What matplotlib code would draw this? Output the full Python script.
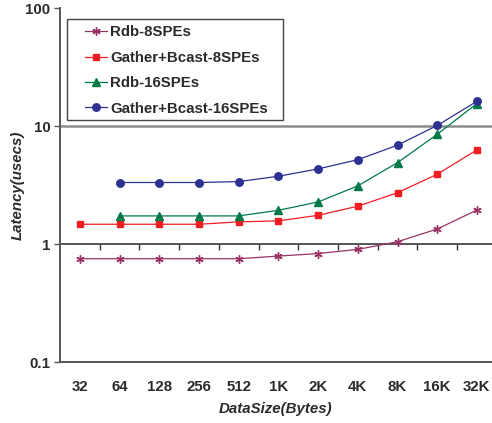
import numpy as np
import matplotlib
matplotlib.use("Agg")
import matplotlib.pyplot as plt
from matplotlib.patches import Rectangle

plt.rcParams['font.family'] = ['Liberation Sans', 'DejaVu Sans']
plt.rcParams['font.weight'] = 'bold'

# Message sizes
categories = ["32", "64", "128", "256", "512", "1K", "2K", "4K", "8K", "16K", "32K"]

# Latency in microseconds (None = not measured)
rdb_8spes = [0.75, 0.75, 0.75, 0.75, 0.75, 0.79, 0.83, 0.90, 1.045, 1.34, 1.94]
gather_bcast_8spes = [1.47, 1.47, 1.47, 1.47, 1.54, 1.57, 1.75, 2.09, 2.72, 3.9, 6.27]
rdb_16spes = [None, 1.73, 1.73, 1.73, 1.73, 1.93, 2.27, 3.11, 4.89, 8.5, 15.5]
gather_bcast_16spes = [None, 3.32, 3.32, 3.32, 3.38, 3.75, 4.33, 5.18, 6.88, 10.1, 16.2]

y_ticks = [0.1, 1, 10, 100]
y_tick_labels = ["0.1", "1", "10", "100"]

FS = 10.8
TEXT = "#2B2B2B"

fig = plt.figure(figsize=(4.92, 4.23), dpi=100)
ax = fig.add_axes([60 / 492, 1 - 362 / 423, 432 / 492, 354 / 423])

x = np.arange(len(categories))


def series(vals):
    xs = [xi for xi, v in zip(x, vals) if v is not None]
    ys = [v for v in vals if v is not None]
    return xs, ys


styles = [
    ("Rdb-8SPEs", rdb_8spes, "#993366", (6, 2, 0), 6.0, 1.0),
    ("Gather+Bcast-8SPEs", gather_bcast_8spes, "#F01E23", "s", 4.6, None),
    ("Rdb-16SPEs", rdb_16spes, "#007A48", "^", 5.2, None),
    ("Gather+Bcast-16SPEs", gather_bcast_16spes, "#2E3192", "o", 5.4, None),
]

for label, vals, color, marker, ms, mew in styles:
    xs, ys = series(vals)
    kw = dict(color=color, marker=marker, markersize=ms, linewidth=0.9,
              label=label, markerfacecolor=color, markeredgecolor=color)
    if mew is not None:
        kw["markeredgewidth"] = mew
    ax.plot(xs, ys, **kw)

ax.set_yscale("log")
ax.set_ylim(0.1, 100)
ax.set_xlim(-0.5, 10.38)

# Horizontal reference lines
ax.axhline(10, color="#8C8C8C", linewidth=1.8, zorder=0.5)
ax.axhline(1, color="#555555", linewidth=1.4, zorder=0.5)

ax.set_yticks(y_ticks)
ax.set_yticklabels(y_tick_labels)
ax.yaxis.set_minor_locator(matplotlib.ticker.NullLocator())
ax.tick_params(axis="y", direction="out", length=4, width=1, color="#555555",
               labelsize=FS, labelcolor=TEXT, pad=3)

ax.set_xticks(x)
ax.set_xticklabels(categories)
ax.tick_params(axis="x", length=0, labelsize=FS, labelcolor=TEXT, pad=13)

for side in ("top", "right"):
    ax.spines[side].set_visible(False)
for side in ("left", "bottom"):
    ax.spines[side].set_color("#555555")
    ax.spines[side].set_linewidth(1.4)

# Category axis crossing at 1 with tick marks between categories
sec = ax.secondary_xaxis(1 / 3)
sec.set_xticks(np.arange(0.5, len(categories) - 0.5, 1.0))
sec.tick_params(axis="x", direction="out", length=4, width=1, color="#333333",
                labelbottom=False, labeltop=False, bottom=True, top=False)
sec.spines["bottom"].set_visible(False)
sec.spines["top"].set_visible(False)

ax.set_ylabel("Latency(usecs)", fontsize=FS, fontstyle="italic",
              fontweight="bold", color=TEXT)
ax.yaxis.set_label_coords(-35 / 432, 0.5)
ax.set_xlabel("DataSize(Bytes)", fontsize=FS, fontstyle="italic",
              fontweight="bold", color=TEXT, labelpad=6)

# Legend box
ax.add_patch(Rectangle((7 / 432, (362 - 120) / 354), 216 / 432, 101 / 354,
                       transform=ax.transAxes, facecolor="white",
                       edgecolor="#444444", linewidth=1.0, zorder=3))
leg = ax.legend(loc="upper left", bbox_to_anchor=(25 / 432, (362 - 25.5) / 354),
                fontsize=FS, frameon=False, handlelength=1.45,
                handletextpad=0.22, labelspacing=0.76, borderpad=0,
                borderaxespad=0)
leg.set_zorder(4)
for t in leg.get_texts():
    t.set_color(TEXT)

fig.savefig("out.png", dpi=100)
